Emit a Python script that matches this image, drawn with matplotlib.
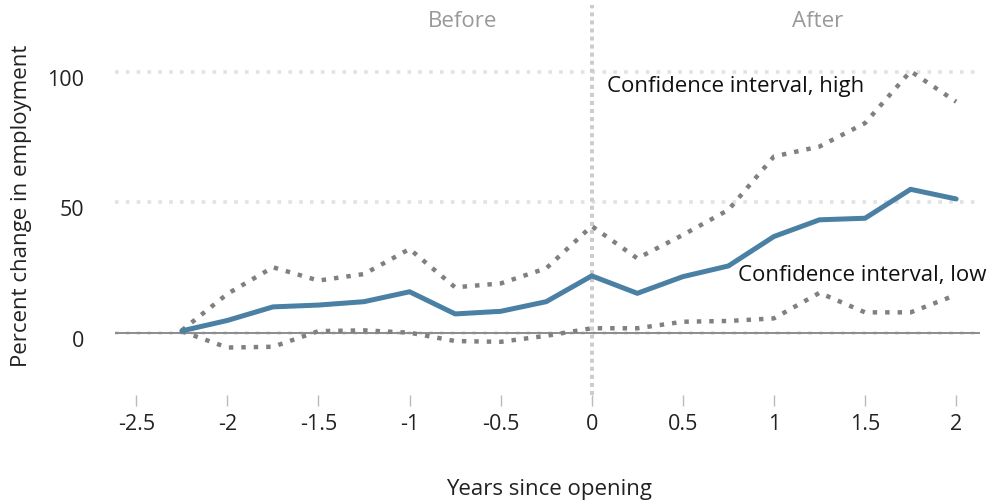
import matplotlib
matplotlib.use("Agg")
import matplotlib.pyplot as plt
from matplotlib.transforms import ScaledTranslation

plt.rcParams['font.family'] = ['Open Sans', 'DejaVu Sans']

years = [-2.25, -2.0, -1.75, -1.5, -1.25, -1.0, -0.75, -0.5, -0.25,
         0.0, 0.25, 0.5, 0.75, 1.0, 1.25, 1.5, 1.75, 2.0]
estimate = [0.7, 4.7, 9.9, 10.6, 11.9, 15.7, 7.2, 8.2, 11.9,
            21.8, 15.1, 21.5, 25.6, 36.9, 43.3, 43.9, 55.0, 51.3]
ci_high = [0.9, 14.9, 25.1, 20.0, 22.5, 32.1, 17.4, 18.9, 24.7,
           40.9, 28.5, 37.5, 47.1, 67.6, 71.4, 80.4, 100.3, 88.6]
ci_low = [0.5, -5.7, -5.4, 0.6, 0.9, 0.0, -3.2, -3.5, -1.2,
          1.7, 1.7, 4.2, 4.5, 5.5, 15.3, 7.8, 7.8, 14.5]

xticks = [-2.5, -2, -1.5, -1, -0.5, 0, 0.5, 1, 1.5, 2]
xticklabels = ['-2.5', '-2', '-1.5', '-1', '-0.5', '0', '0.5', '1', '1.5', '2']
yticks = [0, 50, 100]
yticklabels = ['0', '50', '100']

W, H = 993, 504
fig = plt.figure(figsize=(W / 100, H / 100), dpi=100)
left, right, top, bottom = 115, 980, 5, 395
ax = fig.add_axes([left / W, 1 - bottom / H, (right - left) / W, (bottom - top) / H])

ax.set_xlim(-2.617, 2.131)
ax.set_ylim(-23.9, 125.7)

for s in ax.spines.values():
    s.set_visible(False)

# gridlines
for yv in yticks:
    ax.axhline(yv, color='#e2e2e2', lw=2.6, dashes=(1, 2), zorder=1)
ax.axhline(0, color='#8c8c8c', lw=1.4, zorder=1.5)
ax.axvline(0, color='#cccccc', lw=2.9, dashes=(1, 1), zorder=1)

# series
ax.plot(years, ci_high, color='#808080', lw=3.2, dashes=(1, 1.8), zorder=3)
ax.plot(years, ci_low, color='#808080', lw=3.2, dashes=(1, 1.8), zorder=3)
ax.plot(years, estimate, color='#4a80a4', lw=3.6, solid_capstyle='round',
        solid_joinstyle='round', zorder=4)

ax.set_xticks(xticks)
ax.set_xticklabels(xticklabels)
ax.set_yticks(yticks)
ax.set_yticklabels(yticklabels)
ax.tick_params(axis='x', direction='out', length=8, width=1, color='#bbbbbb',
               pad=6, labelsize=15.5, labelcolor='#222222')
ax.tick_params(axis='y', length=0, pad=22, labelsize=15.5, labelcolor='#222222')
for lab in ax.get_yticklabels():
    lab.set_transform(lab.get_transform() + ScaledTranslation(0, -6 / 100, fig.dpi_scale_trans))

ax.set_xlabel('Years since opening', fontsize=16, color='#222222', va='center', ha='center')
ax.xaxis.set_label_coords((549 - left) / (right - left), (bottom - 490) / (bottom - top))
ax.set_ylabel('Percent change in employment', fontsize=16, color='#222222',
              va='center', ha='center')
ax.yaxis.set_label_coords((22 - left) / (right - left), (bottom - 206) / (bottom - top))

ax.text(-0.71, 119.3, 'Before', fontsize=16, color='#999999', ha='center', va='center')
ax.text(1.24, 119.3, 'After', fontsize=16, color='#999999', ha='center', va='center')

ax.text(0.085, 94.3, 'Confidence interval, high', fontsize=16, color='#111111',
        ha='left', va='center')
ax.text(0.80, 21.8, 'Confidence interval, low', fontsize=16, color='#111111',
        ha='left', va='center')

fig.savefig('out.png', dpi=100)
